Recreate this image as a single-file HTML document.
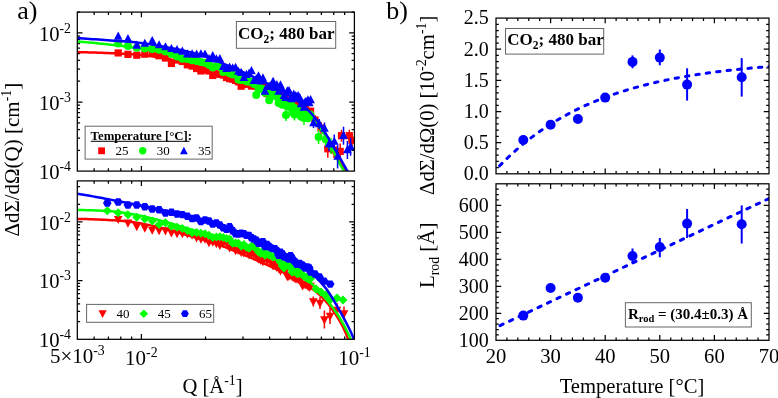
<!DOCTYPE html>
<html><head><meta charset="utf-8"><style>
html,body{margin:0;padding:0;background:#fff;}
svg{display:block;font-family:"Liberation Serif",serif;will-change:transform;}
</style></head><body>
<svg width="778" height="398" viewBox="0 0 778 398">
<path d="M94.16 171.10v-2.8M94.16 12.10v2.8M108.42 171.10v-2.8M108.42 12.10v2.8M120.77 171.10v-2.8M120.77 12.10v2.8M131.67 171.10v-2.8M131.67 12.10v2.8M205.53 171.10v-2.8M205.53 12.10v2.8M243.03 171.10v-2.8M243.03 12.10v2.8M269.64 171.10v-2.8M269.64 12.10v2.8M290.29 171.10v-2.8M290.29 12.10v2.8M307.15 171.10v-2.8M307.15 12.10v2.8M321.41 171.10v-2.8M321.41 12.10v2.8M333.76 171.10v-2.8M333.76 12.10v2.8M344.65 171.10v-2.8M344.65 12.10v2.8" stroke="#000" stroke-width="1.25"/>
<path d="M141.41 171.10v-5.2M141.41 12.10v5.2" stroke="#000" stroke-width="1.25"/>
<path d="M94.16 339.30v-2.8M94.16 180.90v2.8M108.42 339.30v-2.8M108.42 180.90v2.8M120.77 339.30v-2.8M120.77 180.90v2.8M131.67 339.30v-2.8M131.67 180.90v2.8M205.53 339.30v-2.8M205.53 180.90v2.8M243.03 339.30v-2.8M243.03 180.90v2.8M269.64 339.30v-2.8M269.64 180.90v2.8M290.29 339.30v-2.8M290.29 180.90v2.8M307.15 339.30v-2.8M307.15 180.90v2.8M321.41 339.30v-2.8M321.41 180.90v2.8M333.76 339.30v-2.8M333.76 180.90v2.8M344.65 339.30v-2.8M344.65 180.90v2.8" stroke="#000" stroke-width="1.25"/>
<path d="M141.41 339.30v-5.2M141.41 180.90v5.2" stroke="#000" stroke-width="1.25"/>
<path d="M77.30 150.30h2.8M354.40 150.30h-2.8M77.30 138.13h2.8M354.40 138.13h-2.8M77.30 129.50h2.8M354.40 129.50h-2.8M77.30 122.80h2.8M354.40 122.80h-2.8M77.30 117.33h2.8M354.40 117.33h-2.8M77.30 112.70h2.8M354.40 112.70h-2.8M77.30 108.70h2.8M354.40 108.70h-2.8M77.30 105.16h2.8M354.40 105.16h-2.8M77.30 81.20h2.8M354.40 81.20h-2.8M77.30 69.03h2.8M354.40 69.03h-2.8M77.30 60.40h2.8M354.40 60.40h-2.8M77.30 53.70h2.8M354.40 53.70h-2.8M77.30 48.23h2.8M354.40 48.23h-2.8M77.30 43.60h2.8M354.40 43.60h-2.8M77.30 39.60h2.8M354.40 39.60h-2.8M77.30 36.06h2.8M354.40 36.06h-2.8M77.30 12.10h2.8M354.40 12.10h-2.8" stroke="#000" stroke-width="1.25"/>
<path d="M77.30 102.00h5.2M354.40 102.00h-5.2M77.30 32.90h5.2M354.40 32.90h-5.2" stroke="#000" stroke-width="1.25"/>
<path d="M77.30 321.63h2.8M354.40 321.63h-2.8M77.30 311.30h2.8M354.40 311.30h-2.8M77.30 303.97h2.8M354.40 303.97h-2.8M77.30 298.28h2.8M354.40 298.28h-2.8M77.30 293.63h2.8M354.40 293.63h-2.8M77.30 289.70h2.8M354.40 289.70h-2.8M77.30 286.30h2.8M354.40 286.30h-2.8M77.30 283.30h2.8M354.40 283.30h-2.8M77.30 262.94h2.8M354.40 262.94h-2.8M77.30 252.61h2.8M354.40 252.61h-2.8M77.30 245.28h2.8M354.40 245.28h-2.8M77.30 239.59h2.8M354.40 239.59h-2.8M77.30 234.94h2.8M354.40 234.94h-2.8M77.30 231.01h2.8M354.40 231.01h-2.8M77.30 227.61h2.8M354.40 227.61h-2.8M77.30 224.61h2.8M354.40 224.61h-2.8M77.30 204.25h2.8M354.40 204.25h-2.8M77.30 193.92h2.8M354.40 193.92h-2.8M77.30 186.59h2.8M354.40 186.59h-2.8" stroke="#000" stroke-width="1.25"/>
<path d="M77.30 280.61h5.2M354.40 280.61h-5.2M77.30 221.92h5.2M354.40 221.92h-5.2" stroke="#000" stroke-width="1.25"/>
<path d="M506.92 173.80v-2.8M506.92 18.10v2.8M517.84 173.80v-2.8M517.84 18.10v2.8M528.76 173.80v-2.8M528.76 18.10v2.8M539.68 173.80v-2.8M539.68 18.10v2.8M561.52 173.80v-2.8M561.52 18.10v2.8M572.44 173.80v-2.8M572.44 18.10v2.8M583.36 173.80v-2.8M583.36 18.10v2.8M594.28 173.80v-2.8M594.28 18.10v2.8M616.12 173.80v-2.8M616.12 18.10v2.8M627.04 173.80v-2.8M627.04 18.10v2.8M637.96 173.80v-2.8M637.96 18.10v2.8M648.88 173.80v-2.8M648.88 18.10v2.8M670.72 173.80v-2.8M670.72 18.10v2.8M681.64 173.80v-2.8M681.64 18.10v2.8M692.56 173.80v-2.8M692.56 18.10v2.8M703.48 173.80v-2.8M703.48 18.10v2.8M725.32 173.80v-2.8M725.32 18.10v2.8M736.24 173.80v-2.8M736.24 18.10v2.8M747.16 173.80v-2.8M747.16 18.10v2.8M758.08 173.80v-2.8M758.08 18.10v2.8" stroke="#000" stroke-width="1.25"/>
<path d="M550.60 173.80v-5.2M550.60 18.10v5.2M605.20 173.80v-5.2M605.20 18.10v5.2M659.80 173.80v-5.2M659.80 18.10v5.2M714.40 173.80v-5.2M714.40 18.10v5.2" stroke="#000" stroke-width="1.25"/>
<path d="M506.92 340.30v-2.8M506.92 183.80v2.8M517.84 340.30v-2.8M517.84 183.80v2.8M528.76 340.30v-2.8M528.76 183.80v2.8M539.68 340.30v-2.8M539.68 183.80v2.8M561.52 340.30v-2.8M561.52 183.80v2.8M572.44 340.30v-2.8M572.44 183.80v2.8M583.36 340.30v-2.8M583.36 183.80v2.8M594.28 340.30v-2.8M594.28 183.80v2.8M616.12 340.30v-2.8M616.12 183.80v2.8M627.04 340.30v-2.8M627.04 183.80v2.8M637.96 340.30v-2.8M637.96 183.80v2.8M648.88 340.30v-2.8M648.88 183.80v2.8M670.72 340.30v-2.8M670.72 183.80v2.8M681.64 340.30v-2.8M681.64 183.80v2.8M692.56 340.30v-2.8M692.56 183.80v2.8M703.48 340.30v-2.8M703.48 183.80v2.8M725.32 340.30v-2.8M725.32 183.80v2.8M736.24 340.30v-2.8M736.24 183.80v2.8M747.16 340.30v-2.8M747.16 183.80v2.8M758.08 340.30v-2.8M758.08 183.80v2.8" stroke="#000" stroke-width="1.25"/>
<path d="M550.60 340.30v-5.2M550.60 183.80v5.2M605.20 340.30v-5.2M605.20 183.80v5.2M659.80 340.30v-5.2M659.80 183.80v5.2M714.40 340.30v-5.2M714.40 183.80v5.2" stroke="#000" stroke-width="1.25"/>
<path d="M496.00 167.57h2.8M769.00 167.57h-2.8M496.00 161.34h2.8M769.00 161.34h-2.8M496.00 155.12h2.8M769.00 155.12h-2.8M496.00 148.89h2.8M769.00 148.89h-2.8M496.00 136.43h2.8M769.00 136.43h-2.8M496.00 130.20h2.8M769.00 130.20h-2.8M496.00 123.98h2.8M769.00 123.98h-2.8M496.00 117.75h2.8M769.00 117.75h-2.8M496.00 105.29h2.8M769.00 105.29h-2.8M496.00 99.06h2.8M769.00 99.06h-2.8M496.00 92.84h2.8M769.00 92.84h-2.8M496.00 86.61h2.8M769.00 86.61h-2.8M496.00 74.15h2.8M769.00 74.15h-2.8M496.00 67.92h2.8M769.00 67.92h-2.8M496.00 61.70h2.8M769.00 61.70h-2.8M496.00 55.47h2.8M769.00 55.47h-2.8M496.00 43.01h2.8M769.00 43.01h-2.8M496.00 36.78h2.8M769.00 36.78h-2.8M496.00 30.56h2.8M769.00 30.56h-2.8M496.00 24.33h2.8M769.00 24.33h-2.8" stroke="#000" stroke-width="1.25"/>
<path d="M496.00 142.66h5.2M769.00 142.66h-5.2M496.00 111.52h5.2M769.00 111.52h-5.2M496.00 80.38h5.2M769.00 80.38h-5.2M496.00 49.24h5.2M769.00 49.24h-5.2" stroke="#000" stroke-width="1.25"/>
<path d="M496.00 334.90h2.8M769.00 334.90h-2.8M496.00 329.51h2.8M769.00 329.51h-2.8M496.00 324.11h2.8M769.00 324.11h-2.8M496.00 318.71h2.8M769.00 318.71h-2.8M496.00 307.92h2.8M769.00 307.92h-2.8M496.00 302.52h2.8M769.00 302.52h-2.8M496.00 297.13h2.8M769.00 297.13h-2.8M496.00 291.73h2.8M769.00 291.73h-2.8M496.00 280.94h2.8M769.00 280.94h-2.8M496.00 275.54h2.8M769.00 275.54h-2.8M496.00 270.14h2.8M769.00 270.14h-2.8M496.00 264.75h2.8M769.00 264.75h-2.8M496.00 253.96h2.8M769.00 253.96h-2.8M496.00 248.56h2.8M769.00 248.56h-2.8M496.00 243.16h2.8M769.00 243.16h-2.8M496.00 237.77h2.8M769.00 237.77h-2.8M496.00 226.97h2.8M769.00 226.97h-2.8M496.00 221.58h2.8M769.00 221.58h-2.8M496.00 216.18h2.8M769.00 216.18h-2.8M496.00 210.78h2.8M769.00 210.78h-2.8M496.00 199.99h2.8M769.00 199.99h-2.8M496.00 194.59h2.8M769.00 194.59h-2.8M496.00 189.20h2.8M769.00 189.20h-2.8" stroke="#000" stroke-width="1.25"/>
<path d="M496.00 313.32h5.2M769.00 313.32h-5.2M496.00 286.33h5.2M769.00 286.33h-5.2M496.00 259.35h5.2M769.00 259.35h-5.2M496.00 232.37h5.2M769.00 232.37h-5.2M496.00 205.39h5.2M769.00 205.39h-5.2" stroke="#000" stroke-width="1.25"/>
<defs><clipPath id="cTL"><rect x="77.3" y="12.1" width="277.09999999999997" height="159.0"/></clipPath><clipPath id="cBL"><rect x="77.3" y="180.9" width="277.09999999999997" height="158.4"/></clipPath><clipPath id="cTR"><rect x="496.0" y="18.1" width="273.0" height="155.70000000000002"/></clipPath><clipPath id="cBR"><rect x="496.0" y="183.8" width="273.0" height="156.5"/></clipPath></defs>
<g clip-path="url(#cTL)">
<g stroke="#ff0000" fill="none"><path d="M315.00 115.00V125.00" stroke-width="1.5"/><path d="M321.00 122.00V134.00" stroke-width="1.5"/><path d="M327.80 139.80V157.80" stroke-width="1.5"/><path d="M334.00 142.00V158.00" stroke-width="1.5"/><path d="M340.20 143.40V159.40" stroke-width="1.5"/><path d="M341.50 129.70V141.70" stroke-width="1.5"/><path d="M349.30 129.70V141.70" stroke-width="1.5"/><path d="M352.00 133.30V147.30" stroke-width="1.5"/></g>
<g fill="#ff0000" stroke="none"><rect x="114.60" y="49.33" width="7.2" height="7.2"/><rect x="124.35" y="50.74" width="7.2" height="7.2"/><rect x="133.17" y="51.59" width="7.2" height="7.2"/><rect x="141.22" y="50.57" width="7.2" height="7.2"/><rect x="148.63" y="49.97" width="7.2" height="7.2"/><rect x="155.49" y="52.15" width="7.2" height="7.2"/><rect x="161.87" y="54.43" width="7.2" height="7.2"/><rect x="167.84" y="59.85" width="7.2" height="7.2"/><rect x="173.45" y="56.45" width="7.2" height="7.2"/><rect x="178.74" y="57.88" width="7.2" height="7.2"/><rect x="183.74" y="61.23" width="7.2" height="7.2"/><rect x="188.49" y="62.45" width="7.2" height="7.2"/><rect x="193.00" y="64.95" width="7.2" height="7.2"/><rect x="197.31" y="67.35" width="7.2" height="7.2"/><rect x="201.42" y="66.18" width="7.2" height="7.2"/><rect x="205.36" y="67.40" width="7.2" height="7.2"/><rect x="209.13" y="71.86" width="7.2" height="7.2"/><rect x="212.76" y="70.01" width="7.2" height="7.2"/><rect x="216.25" y="70.65" width="7.2" height="7.2"/><rect x="219.62" y="71.40" width="7.2" height="7.2"/><rect x="222.87" y="73.94" width="7.2" height="7.2"/><rect x="226.00" y="75.09" width="7.2" height="7.2"/><rect x="229.04" y="75.54" width="7.2" height="7.2"/><rect x="231.97" y="76.87" width="7.2" height="7.2"/><rect x="234.82" y="78.21" width="7.2" height="7.2"/><rect x="237.58" y="82.61" width="7.2" height="7.2"/><rect x="240.26" y="80.94" width="7.2" height="7.2"/><rect x="242.87" y="80.58" width="7.2" height="7.2"/><rect x="245.40" y="78.68" width="7.2" height="7.2"/><rect x="247.87" y="82.47" width="7.2" height="7.2"/><rect x="250.27" y="80.25" width="7.2" height="7.2"/><rect x="252.62" y="82.40" width="7.2" height="7.2"/><rect x="254.90" y="81.18" width="7.2" height="7.2"/><rect x="257.13" y="83.66" width="7.2" height="7.2"/><rect x="259.31" y="83.15" width="7.2" height="7.2"/><rect x="261.43" y="85.08" width="7.2" height="7.2"/><rect x="263.51" y="89.96" width="7.2" height="7.2"/><rect x="265.55" y="86.03" width="7.2" height="7.2"/><rect x="267.54" y="88.03" width="7.2" height="7.2"/><rect x="269.48" y="85.90" width="7.2" height="7.2"/><rect x="271.39" y="88.40" width="7.2" height="7.2"/><rect x="273.26" y="90.88" width="7.2" height="7.2"/><rect x="275.09" y="90.98" width="7.2" height="7.2"/><rect x="276.89" y="92.86" width="7.2" height="7.2"/><rect x="278.65" y="93.67" width="7.2" height="7.2"/><rect x="280.38" y="93.22" width="7.2" height="7.2"/><rect x="282.08" y="96.65" width="7.2" height="7.2"/><rect x="283.74" y="95.67" width="7.2" height="7.2"/><rect x="285.38" y="100.63" width="7.2" height="7.2"/><rect x="286.99" y="97.96" width="7.2" height="7.2"/><rect x="288.57" y="100.58" width="7.2" height="7.2"/><rect x="290.13" y="100.35" width="7.2" height="7.2"/><rect x="291.66" y="102.58" width="7.2" height="7.2"/><rect x="293.16" y="100.96" width="7.2" height="7.2"/><rect x="294.64" y="104.15" width="7.2" height="7.2"/><rect x="296.10" y="103.13" width="7.2" height="7.2"/><rect x="297.53" y="105.97" width="7.2" height="7.2"/><rect x="298.94" y="105.65" width="7.2" height="7.2"/><rect x="300.33" y="105.54" width="7.2" height="7.2"/><rect x="301.70" y="104.71" width="7.2" height="7.2"/><rect x="303.05" y="107.76" width="7.2" height="7.2"/><rect x="304.39" y="107.87" width="7.2" height="7.2"/><rect x="305.70" y="110.31" width="7.2" height="7.2"/><rect x="306.99" y="107.63" width="7.2" height="7.2"/><rect x="311.40" y="116.40" width="7.2" height="7.2"/><rect x="317.40" y="124.40" width="7.2" height="7.2"/><rect x="324.20" y="145.20" width="7.2" height="7.2"/><rect x="330.40" y="146.40" width="7.2" height="7.2"/><rect x="336.60" y="147.80" width="7.2" height="7.2"/><rect x="337.90" y="132.10" width="7.2" height="7.2"/><rect x="345.70" y="132.10" width="7.2" height="7.2"/><rect x="348.40" y="136.70" width="7.2" height="7.2"/></g>
<path d="M77.30 52.10 L80.34 52.16 L83.38 52.23 L86.42 52.31 L89.47 52.40 L92.51 52.49 L95.55 52.59 L98.59 52.70 L101.63 52.81 L104.67 52.93 L107.72 53.06 L110.76 53.18 L113.80 53.32 L116.84 53.45 L119.88 53.59 L122.92 53.73 L125.97 53.89 L129.01 54.06 L132.05 54.24 L135.09 54.46 L138.13 54.69 L141.17 54.97 L144.21 55.30 L147.26 55.66 L150.30 56.06 L153.34 56.48 L156.38 56.94 L159.42 57.41 L162.46 57.91 L165.51 58.47 L168.55 59.08 L171.59 59.73 L174.63 60.41 L177.67 61.13 L180.71 61.87 L183.76 62.63 L186.80 63.40 L189.84 64.18 L192.88 64.96 L195.92 65.73 L198.96 66.49 L202.00 67.25 L205.05 68.02 L208.09 68.80 L211.13 69.59 L214.17 70.39 L217.21 71.22 L220.25 72.07 L223.30 72.95 L226.34 73.86 L229.38 74.80 L232.42 75.79 L235.46 76.80 L238.50 77.86 L241.54 78.96 L244.59 80.10 L247.63 81.27 L250.67 82.49 L253.71 83.75 L256.75 85.06 L259.79 86.41 L262.84 87.81 L265.88 89.29 L268.92 90.84 L271.96 92.45 L275.00 94.12 L278.04 95.84 L281.09 97.60 L284.13 99.41 L287.17 101.25 L290.21 103.13 L293.25 105.01 L296.29 106.91 L299.33 108.87 L302.38 110.95 L305.42 113.20 L308.46 115.66 L311.50 118.40 L314.54 121.59 L317.58 125.16 L320.63 129.04 L323.67 133.15 L326.71 137.50 L329.75 142.41 L332.79 147.74 L335.83 153.30 L338.88 158.91 L341.92 164.36 L344.96 169.46 L348.00 174.00" fill="none" stroke="#ff0000" stroke-width="2.5"/>
<g stroke="#00ff00" fill="none"><path d="M286.00 109.00V121.00" stroke-width="1.5"/><path d="M294.50 108.50V120.50" stroke-width="1.5"/><path d="M304.00 111.00V125.00" stroke-width="1.5"/><path d="M318.60 130.00V144.00" stroke-width="1.5"/><path d="M325.80 132.60V146.60" stroke-width="1.5"/><path d="M331.00 138.00V154.00" stroke-width="1.5"/></g>
<g fill="#00ff00" stroke="none"><circle cx="118.20" cy="43.55" r="4.0"/><circle cx="127.95" cy="46.07" r="4.0"/><circle cx="136.77" cy="47.85" r="4.0"/><circle cx="144.82" cy="48.43" r="4.0"/><circle cx="152.23" cy="49.02" r="4.0"/><circle cx="159.09" cy="49.80" r="4.0"/><circle cx="165.47" cy="51.50" r="4.0"/><circle cx="171.44" cy="54.03" r="4.0"/><circle cx="177.05" cy="56.47" r="4.0"/><circle cx="182.34" cy="58.67" r="4.0"/><circle cx="187.34" cy="59.05" r="4.0"/><circle cx="192.09" cy="60.20" r="4.0"/><circle cx="196.60" cy="60.99" r="4.0"/><circle cx="200.91" cy="62.12" r="4.0"/><circle cx="205.02" cy="62.74" r="4.0"/><circle cx="208.96" cy="64.83" r="4.0"/><circle cx="212.73" cy="67.53" r="4.0"/><circle cx="216.36" cy="66.05" r="4.0"/><circle cx="219.85" cy="66.89" r="4.0"/><circle cx="223.22" cy="71.92" r="4.0"/><circle cx="226.47" cy="70.86" r="4.0"/><circle cx="229.60" cy="73.21" r="4.0"/><circle cx="232.64" cy="74.41" r="4.0"/><circle cx="235.57" cy="72.88" r="4.0"/><circle cx="238.42" cy="79.49" r="4.0"/><circle cx="241.18" cy="79.95" r="4.0"/><circle cx="243.86" cy="78.99" r="4.0"/><circle cx="246.47" cy="81.24" r="4.0"/><circle cx="249.00" cy="81.66" r="4.0"/><circle cx="251.47" cy="81.44" r="4.0"/><circle cx="253.87" cy="83.93" r="4.0"/><circle cx="256.22" cy="94.97" r="4.0"/><circle cx="258.50" cy="88.42" r="4.0"/><circle cx="260.73" cy="89.07" r="4.0"/><circle cx="262.91" cy="89.31" r="4.0"/><circle cx="265.03" cy="92.63" r="4.0"/><circle cx="267.11" cy="90.51" r="4.0"/><circle cx="269.15" cy="100.25" r="4.0"/><circle cx="271.14" cy="96.02" r="4.0"/><circle cx="273.08" cy="95.05" r="4.0"/><circle cx="274.99" cy="93.93" r="4.0"/><circle cx="276.86" cy="96.71" r="4.0"/><circle cx="278.69" cy="102.93" r="4.0"/><circle cx="280.49" cy="101.72" r="4.0"/><circle cx="282.25" cy="104.69" r="4.0"/><circle cx="283.98" cy="101.62" r="4.0"/><circle cx="285.68" cy="104.44" r="4.0"/><circle cx="287.34" cy="106.59" r="4.0"/><circle cx="288.98" cy="106.18" r="4.0"/><circle cx="290.59" cy="103.26" r="4.0"/><circle cx="292.17" cy="109.51" r="4.0"/><circle cx="293.73" cy="112.89" r="4.0"/><circle cx="295.26" cy="111.40" r="4.0"/><circle cx="296.76" cy="108.79" r="4.0"/><circle cx="298.24" cy="110.35" r="4.0"/><circle cx="299.70" cy="112.12" r="4.0"/><circle cx="301.13" cy="116.73" r="4.0"/><circle cx="302.54" cy="114.04" r="4.0"/><circle cx="303.93" cy="113.72" r="4.0"/><circle cx="305.30" cy="116.82" r="4.0"/><circle cx="306.65" cy="114.41" r="4.0"/><circle cx="307.99" cy="118.36" r="4.0"/><circle cx="309.30" cy="114.23" r="4.0"/><circle cx="310.59" cy="115.02" r="4.0"/><circle cx="286.00" cy="115.00" r="4.0"/><circle cx="294.50" cy="114.50" r="4.0"/><circle cx="304.00" cy="118.00" r="4.0"/><circle cx="318.60" cy="137.00" r="4.0"/><circle cx="325.80" cy="139.60" r="4.0"/><circle cx="331.00" cy="146.00" r="4.0"/></g>
<path d="M77.30 41.60 L80.32 41.81 L83.34 42.04 L86.36 42.28 L89.38 42.54 L92.40 42.81 L95.41 43.09 L98.43 43.39 L101.45 43.69 L104.47 44.00 L107.49 44.32 L110.51 44.65 L113.53 44.99 L116.55 45.33 L119.57 45.69 L122.59 46.07 L125.61 46.47 L128.62 46.90 L131.64 47.33 L134.66 47.77 L137.68 48.20 L140.70 48.62 L143.72 49.03 L146.74 49.45 L149.76 49.88 L152.78 50.32 L155.80 50.79 L158.82 51.29 L161.83 51.83 L164.85 52.39 L167.87 52.99 L170.89 53.61 L173.91 54.25 L176.93 54.92 L179.95 55.62 L182.97 56.34 L185.99 57.09 L189.01 57.86 L192.03 58.65 L195.04 59.46 L198.06 60.30 L201.08 61.18 L204.10 62.11 L207.12 63.09 L210.14 64.10 L213.16 65.15 L216.18 66.24 L219.20 67.35 L222.22 68.48 L225.24 69.64 L228.26 70.82 L231.27 72.00 L234.29 73.23 L237.31 74.49 L240.33 75.78 L243.35 77.11 L246.37 78.47 L249.39 79.86 L252.41 81.28 L255.43 82.74 L258.45 84.22 L261.47 85.74 L264.48 87.29 L267.50 88.89 L270.52 90.52 L273.54 92.19 L276.56 93.91 L279.58 95.66 L282.60 97.45 L285.62 99.28 L288.64 101.14 L291.66 103.03 L294.68 104.90 L297.69 106.78 L300.71 108.75 L303.73 110.86 L306.75 113.19 L309.77 115.79 L312.79 118.84 L315.81 122.44 L318.83 126.47 L321.85 130.80 L324.87 135.34 L327.89 140.49 L330.90 146.20 L333.92 152.22 L336.94 158.27 L339.96 164.10 L342.98 169.45 L346.00 174.00" fill="none" stroke="#00ff00" stroke-width="2.5"/>
<g stroke="#0000ff" fill="none"><path d="M313.50 118.00V128.00" stroke-width="1.5"/><path d="M319.30 119.00V129.00" stroke-width="1.5"/><path d="M324.50 122.50V134.50" stroke-width="1.5"/><path d="M329.00 137.20V151.20" stroke-width="1.5"/><path d="M334.30 134.60V148.60" stroke-width="1.5"/><path d="M337.60 144.60V168.60" stroke-width="1.5"/><path d="M343.50 126.70V144.70" stroke-width="1.5"/><path d="M347.40 141.00V159.00" stroke-width="1.5"/><path d="M350.60 137.80V155.80" stroke-width="1.5"/></g>
<g fill="#0000ff" stroke="none"><path d="M118.20 31.46L122.50 39.63L113.90 39.63Z"/><path d="M127.95 33.98L132.25 42.15L123.65 42.15Z"/><path d="M136.77 40.56L141.07 48.73L132.47 48.73Z"/><path d="M144.82 38.63L149.12 46.80L140.52 46.80Z"/><path d="M152.23 35.89L156.53 44.06L147.93 44.06Z"/><path d="M159.09 40.14L163.39 48.31L154.79 48.31Z"/><path d="M165.47 42.17L169.77 50.34L161.17 50.34Z"/><path d="M171.44 43.95L175.74 52.12L167.14 52.12Z"/><path d="M177.05 45.12L181.35 53.29L172.75 53.29Z"/><path d="M182.34 46.59L186.64 54.76L178.04 54.76Z"/><path d="M187.34 49.22L191.64 57.39L183.04 57.39Z"/><path d="M192.09 49.24L196.39 57.41L187.79 57.41Z"/><path d="M196.60 49.59L200.90 57.76L192.30 57.76Z"/><path d="M200.91 49.14L205.21 57.31L196.61 57.31Z"/><path d="M205.02 49.41L209.32 57.58L200.72 57.58Z"/><path d="M208.96 53.94L213.26 62.11L204.66 62.11Z"/><path d="M212.73 51.09L217.03 59.26L208.43 59.26Z"/><path d="M216.36 54.21L220.66 62.38L212.06 62.38Z"/><path d="M219.85 54.05L224.15 62.22L215.55 62.22Z"/><path d="M223.22 61.85L227.52 70.02L218.92 70.02Z"/><path d="M226.47 63.86L230.77 72.03L222.17 72.03Z"/><path d="M229.60 62.56L233.90 70.73L225.30 70.73Z"/><path d="M232.64 63.28L236.94 71.45L228.34 71.45Z"/><path d="M235.57 62.83L239.87 71.00L231.27 71.00Z"/><path d="M238.42 66.68L242.72 74.85L234.12 74.85Z"/><path d="M241.18 67.71L245.48 75.88L236.88 75.88Z"/><path d="M243.86 72.92L248.16 81.09L239.56 81.09Z"/><path d="M246.47 69.83L250.77 78.00L242.17 78.00Z"/><path d="M249.00 68.68L253.30 76.85L244.70 76.85Z"/><path d="M251.47 66.04L255.77 74.21L247.17 74.21Z"/><path d="M253.87 75.83L258.17 84.00L249.57 84.00Z"/><path d="M256.22 74.19L260.52 82.36L251.92 82.36Z"/><path d="M258.50 71.13L262.80 79.30L254.20 79.30Z"/><path d="M260.73 76.41L265.03 84.58L256.43 84.58Z"/><path d="M262.91 73.23L267.21 81.40L258.61 81.40Z"/><path d="M265.03 86.54L269.33 94.71L260.73 94.71Z"/><path d="M267.11 81.90L271.41 90.07L262.81 90.07Z"/><path d="M269.15 81.59L273.45 89.76L264.85 89.76Z"/><path d="M271.14 80.72L275.44 88.89L266.84 88.89Z"/><path d="M273.08 76.74L277.38 84.91L268.78 84.91Z"/><path d="M274.99 82.77L279.29 90.94L270.69 90.94Z"/><path d="M276.86 80.05L281.16 88.22L272.56 88.22Z"/><path d="M278.69 86.52L282.99 94.69L274.39 94.69Z"/><path d="M280.49 80.30L284.79 88.47L276.19 88.47Z"/><path d="M282.25 84.39L286.55 92.56L277.95 92.56Z"/><path d="M283.98 90.91L288.28 99.08L279.68 99.08Z"/><path d="M285.68 92.92L289.98 101.09L281.38 101.09Z"/><path d="M287.34 86.13L291.64 94.30L283.04 94.30Z"/><path d="M288.98 85.93L293.28 94.10L284.68 94.10Z"/><path d="M290.59 93.29L294.89 101.46L286.29 101.46Z"/><path d="M292.17 93.98L296.47 102.15L287.87 102.15Z"/><path d="M293.73 89.60L298.03 97.77L289.43 97.77Z"/><path d="M295.26 91.10L299.56 99.27L290.96 99.27Z"/><path d="M296.76 91.76L301.06 99.93L292.46 99.93Z"/><path d="M298.24 90.98L302.54 99.15L293.94 99.15Z"/><path d="M299.70 93.03L304.00 101.20L295.40 101.20Z"/><path d="M301.13 99.16L305.43 107.33L296.83 107.33Z"/><path d="M302.54 98.10L306.84 106.27L298.24 106.27Z"/><path d="M303.93 102.64L308.23 110.81L299.63 110.81Z"/><path d="M305.30 96.89L309.60 105.06L301.00 105.06Z"/><path d="M306.65 97.23L310.95 105.40L302.35 105.40Z"/><path d="M307.99 95.18L312.29 103.35L303.69 103.35Z"/><path d="M309.30 98.17L313.60 106.34L305.00 106.34Z"/><path d="M310.59 95.03L314.89 103.20L306.29 103.20Z"/><path d="M313.50 118.10L317.80 126.27L309.20 126.27Z"/><path d="M319.30 119.10L323.60 127.27L315.00 127.27Z"/><path d="M324.50 123.60L328.80 131.77L320.20 131.77Z"/><path d="M329.00 139.30L333.30 147.47L324.70 147.47Z"/><path d="M334.30 136.70L338.60 144.87L330.00 144.87Z"/><path d="M337.60 151.70L341.90 159.87L333.30 159.87Z"/><path d="M343.50 130.80L347.80 138.97L339.20 138.97Z"/><path d="M347.40 145.10L351.70 153.27L343.10 153.27Z"/><path d="M350.60 141.90L354.90 150.07L346.30 150.07Z"/></g>
<path d="M77.30 38.10 L80.35 38.30 L83.41 38.51 L86.46 38.72 L89.51 38.93 L92.56 39.14 L95.62 39.36 L98.67 39.58 L101.72 39.80 L104.78 40.02 L107.83 40.24 L110.88 40.47 L113.93 40.69 L116.99 40.92 L120.04 41.15 L123.09 41.37 L126.14 41.59 L129.20 41.81 L132.25 42.06 L135.30 42.33 L138.36 42.65 L141.41 43.01 L144.46 43.43 L147.51 43.88 L150.57 44.37 L153.62 44.89 L156.67 45.41 L159.73 45.95 L162.78 46.49 L165.83 47.05 L168.88 47.62 L171.94 48.20 L174.99 48.81 L178.04 49.44 L181.10 50.09 L184.15 50.77 L187.20 51.48 L190.25 52.23 L193.31 53.01 L196.36 53.82 L199.41 54.70 L202.47 55.66 L205.52 56.69 L208.57 57.80 L211.62 58.96 L214.68 60.16 L217.73 61.40 L220.78 62.66 L223.83 63.93 L226.89 65.21 L229.94 66.48 L232.99 67.74 L236.05 69.04 L239.10 70.35 L242.15 71.69 L245.20 73.06 L248.26 74.44 L251.31 75.85 L254.36 77.29 L257.42 78.75 L260.47 80.23 L263.52 81.72 L266.57 83.22 L269.63 84.73 L272.68 86.28 L275.73 87.86 L278.79 89.48 L281.84 91.16 L284.89 92.91 L287.94 94.73 L291.00 96.63 L294.05 98.61 L297.10 100.71 L300.16 102.97 L303.21 105.44 L306.26 108.17 L309.31 111.26 L312.37 114.71 L315.42 118.44 L318.47 122.43 L321.52 126.80 L324.58 131.65 L327.63 136.80 L330.68 142.05 L333.74 147.24 L336.79 152.45 L339.84 157.74 L342.89 163.10 L345.95 168.51 L349.00 174.00" fill="none" stroke="#0000ff" stroke-width="2.5"/>
</g>
<g clip-path="url(#cBL)">
<g stroke="#ff0000" fill="none"><path d="M313.30 296.40V306.40" stroke-width="1.5"/><path d="M320.00 297.00V309.00" stroke-width="1.5"/><path d="M324.40 310.50V328.50" stroke-width="1.5"/><path d="M330.00 308.00V324.00" stroke-width="1.5"/><path d="M337.00 303.00V317.00" stroke-width="1.5"/><path d="M344.00 306.50V320.50" stroke-width="1.5"/></g>
<g fill="#ff0000" stroke="none"><path d="M118.20 224.10L122.50 215.93L113.90 215.93Z"/><path d="M127.95 227.79L132.25 219.62L123.65 219.62Z"/><path d="M136.77 231.16L141.07 222.99L132.47 222.99Z"/><path d="M144.82 232.64L149.12 224.47L140.52 224.47Z"/><path d="M152.23 234.83L156.53 226.66L147.93 226.66Z"/><path d="M159.09 235.18L163.39 227.01L154.79 227.01Z"/><path d="M165.47 235.45L169.77 227.28L161.17 227.28Z"/><path d="M171.44 237.59L175.74 229.42L167.14 229.42Z"/><path d="M177.05 238.22L181.35 230.05L172.75 230.05Z"/><path d="M182.34 238.36L186.64 230.19L178.04 230.19Z"/><path d="M187.34 238.59L191.64 230.42L183.04 230.42Z"/><path d="M192.09 239.74L196.39 231.57L187.79 231.57Z"/><path d="M196.60 242.54L200.90 234.37L192.30 234.37Z"/><path d="M200.91 243.67L205.21 235.50L196.61 235.50Z"/><path d="M205.02 243.78L209.32 235.61L200.72 235.61Z"/><path d="M208.96 247.35L213.26 239.18L204.66 239.18Z"/><path d="M212.73 246.63L217.03 238.46L208.43 238.46Z"/><path d="M216.36 248.19L220.66 240.02L212.06 240.02Z"/><path d="M219.85 250.12L224.15 241.95L215.55 241.95Z"/><path d="M223.22 248.17L227.52 240.00L218.92 240.00Z"/><path d="M226.47 247.45L230.77 239.28L222.17 239.28Z"/><path d="M229.60 252.49L233.90 244.32L225.30 244.32Z"/><path d="M232.64 251.31L236.94 243.14L228.34 243.14Z"/><path d="M235.57 255.36L239.87 247.19L231.27 247.19Z"/><path d="M238.42 254.87L242.72 246.70L234.12 246.70Z"/><path d="M241.18 256.91L245.48 248.74L236.88 248.74Z"/><path d="M243.86 257.54L248.16 249.37L239.56 249.37Z"/><path d="M246.47 253.99L250.77 245.82L242.17 245.82Z"/><path d="M249.00 259.50L253.30 251.33L244.70 251.33Z"/><path d="M251.47 258.25L255.77 250.08L247.17 250.08Z"/><path d="M253.87 259.12L258.17 250.95L249.57 250.95Z"/><path d="M256.22 260.66L260.52 252.49L251.92 252.49Z"/><path d="M258.50 263.70L262.80 255.53L254.20 255.53Z"/><path d="M260.73 264.92L265.03 256.75L256.43 256.75Z"/><path d="M262.91 266.17L267.21 258.00L258.61 258.00Z"/><path d="M265.03 262.60L269.33 254.43L260.73 254.43Z"/><path d="M267.11 265.44L271.41 257.27L262.81 257.27Z"/><path d="M269.15 263.33L273.45 255.16L264.85 255.16Z"/><path d="M271.14 268.30L275.44 260.13L266.84 260.13Z"/><path d="M273.08 270.58L277.38 262.41L268.78 262.41Z"/><path d="M274.99 269.21L279.29 261.04L270.69 261.04Z"/><path d="M276.86 272.07L281.16 263.90L272.56 263.90Z"/><path d="M278.69 273.13L282.99 264.96L274.39 264.96Z"/><path d="M280.49 275.62L284.79 267.45L276.19 267.45Z"/><path d="M282.25 273.37L286.55 265.20L277.95 265.20Z"/><path d="M283.98 274.41L288.28 266.24L279.68 266.24Z"/><path d="M285.68 275.59L289.98 267.42L281.38 267.42Z"/><path d="M287.34 281.31L291.64 273.14L283.04 273.14Z"/><path d="M288.98 281.12L293.28 272.95L284.68 272.95Z"/><path d="M290.59 279.87L294.89 271.70L286.29 271.70Z"/><path d="M292.17 281.53L296.47 273.36L287.87 273.36Z"/><path d="M293.73 282.29L298.03 274.12L289.43 274.12Z"/><path d="M295.26 283.41L299.56 275.24L290.96 275.24Z"/><path d="M296.76 283.55L301.06 275.38L292.46 275.38Z"/><path d="M298.24 284.21L302.54 276.04L293.94 276.04Z"/><path d="M299.70 283.29L304.00 275.12L295.40 275.12Z"/><path d="M301.13 285.32L305.43 277.15L296.83 277.15Z"/><path d="M302.54 290.62L306.84 282.45L298.24 282.45Z"/><path d="M303.93 289.27L308.23 281.10L299.63 281.10Z"/><path d="M305.30 289.14L309.60 280.97L301.00 280.97Z"/><path d="M306.65 289.38L310.95 281.21L302.35 281.21Z"/><path d="M307.99 290.70L312.29 282.53L303.69 282.53Z"/><path d="M309.30 292.04L313.60 283.87L305.00 283.87Z"/><path d="M310.59 290.80L314.89 282.63L306.29 282.63Z"/><path d="M313.30 306.30L317.60 298.13L309.00 298.13Z"/><path d="M320.00 307.90L324.30 299.73L315.70 299.73Z"/><path d="M324.40 324.40L328.70 316.23L320.10 316.23Z"/><path d="M330.00 320.90L334.30 312.73L325.70 312.73Z"/><path d="M337.00 314.90L341.30 306.73L332.70 306.73Z"/><path d="M344.00 318.40L348.30 310.23L339.70 310.23Z"/></g>
<path d="M77.30 219.00 L80.35 219.01 L83.41 219.05 L86.46 219.11 L89.51 219.19 L92.56 219.29 L95.62 219.40 L98.67 219.53 L101.72 219.68 L104.78 219.83 L107.83 220.00 L110.88 220.17 L113.93 220.35 L116.99 220.54 L120.04 220.74 L123.09 220.99 L126.14 221.30 L129.20 221.65 L132.25 222.05 L135.30 222.50 L138.36 223.00 L141.41 223.53 L144.46 224.11 L147.51 224.72 L150.57 225.37 L153.62 226.05 L156.67 226.76 L159.73 227.50 L162.78 228.26 L165.83 229.05 L168.88 229.87 L171.94 230.70 L174.99 231.55 L178.04 232.42 L181.10 233.30 L184.15 234.19 L187.20 235.09 L190.25 236.00 L193.31 236.91 L196.36 237.82 L199.41 238.74 L202.47 239.65 L205.52 240.56 L208.57 241.47 L211.62 242.43 L214.68 243.42 L217.73 244.47 L220.78 245.55 L223.83 246.67 L226.89 247.83 L229.94 249.01 L232.99 250.23 L236.05 251.47 L239.10 252.74 L242.15 254.02 L245.20 255.33 L248.26 256.64 L251.31 257.97 L254.36 259.31 L257.42 260.66 L260.47 262.00 L263.52 263.35 L266.57 264.69 L269.63 266.04 L272.68 267.38 L275.73 268.75 L278.79 270.13 L281.84 271.55 L284.89 273.00 L287.94 274.50 L291.00 276.05 L294.05 277.66 L297.10 279.34 L300.16 281.09 L303.21 282.91 L306.26 284.80 L309.31 286.80 L312.37 288.95 L315.42 291.28 L318.47 293.83 L321.52 296.65 L324.58 299.81 L327.63 303.33 L330.68 307.21 L333.74 311.45 L336.79 316.06 L339.84 321.03 L342.89 326.63 L345.95 333.39 L349.00 342.00" fill="none" stroke="#ff0000" stroke-width="2.5"/>
<g stroke="#00ff00" fill="none"><path d="M316.00 285.00V293.00" stroke-width="1.5"/><path d="M321.00 288.00V296.00" stroke-width="1.5"/><path d="M326.00 291.00V299.00" stroke-width="1.5"/><path d="M331.00 295.00V303.00" stroke-width="1.5"/><path d="M337.00 294.00V302.00" stroke-width="1.5"/><path d="M343.00 296.00V304.00" stroke-width="1.5"/></g>
<g fill="#00ff00" stroke="none"><path d="M107.29 206.30L111.79 210.80L107.29 215.30L102.79 210.80Z"/><path d="M118.20 208.34L122.70 212.84L118.20 217.34L113.70 212.84Z"/><path d="M127.95 210.16L132.45 214.66L127.95 219.16L123.45 214.66Z"/><path d="M136.77 212.64L141.27 217.14L136.77 221.64L132.27 217.14Z"/><path d="M144.82 214.57L149.32 219.07L144.82 223.57L140.32 219.07Z"/><path d="M152.23 216.38L156.73 220.88L152.23 225.38L147.73 220.88Z"/><path d="M159.09 219.95L163.59 224.45L159.09 228.95L154.59 224.45Z"/><path d="M165.47 218.29L169.97 222.79L165.47 227.29L160.97 222.79Z"/><path d="M171.44 221.83L175.94 226.33L171.44 230.83L166.94 226.33Z"/><path d="M177.05 222.81L181.55 227.31L177.05 231.81L172.55 227.31Z"/><path d="M182.34 224.02L186.84 228.52L182.34 233.02L177.84 228.52Z"/><path d="M187.34 225.94L191.84 230.44L187.34 234.94L182.84 230.44Z"/><path d="M192.09 228.17L196.59 232.67L192.09 237.17L187.59 232.67Z"/><path d="M196.60 228.06L201.10 232.56L196.60 237.06L192.10 232.56Z"/><path d="M200.91 228.84L205.41 233.34L200.91 237.84L196.41 233.34Z"/><path d="M205.02 229.29L209.52 233.79L205.02 238.29L200.52 233.79Z"/><path d="M208.96 230.84L213.46 235.34L208.96 239.84L204.46 235.34Z"/><path d="M212.73 233.03L217.23 237.53L212.73 242.03L208.23 237.53Z"/><path d="M216.36 232.38L220.86 236.88L216.36 241.38L211.86 236.88Z"/><path d="M219.85 232.35L224.35 236.85L219.85 241.35L215.35 236.85Z"/><path d="M223.22 233.06L227.72 237.56L223.22 242.06L218.72 237.56Z"/><path d="M226.47 234.11L230.97 238.61L226.47 243.11L221.97 238.61Z"/><path d="M229.60 234.61L234.10 239.11L229.60 243.61L225.10 239.11Z"/><path d="M232.64 238.64L237.14 243.14L232.64 247.64L228.14 243.14Z"/><path d="M235.57 238.57L240.07 243.07L235.57 247.57L231.07 243.07Z"/><path d="M238.42 238.68L242.92 243.18L238.42 247.68L233.92 243.18Z"/><path d="M241.18 241.80L245.68 246.30L241.18 250.80L236.68 246.30Z"/><path d="M243.86 239.92L248.36 244.42L243.86 248.92L239.36 244.42Z"/><path d="M246.47 242.71L250.97 247.21L246.47 251.71L241.97 247.21Z"/><path d="M249.00 243.70L253.50 248.20L249.00 252.70L244.50 248.20Z"/><path d="M251.47 241.45L255.97 245.95L251.47 250.45L246.97 245.95Z"/><path d="M253.87 242.35L258.37 246.85L253.87 251.35L249.37 246.85Z"/><path d="M256.22 244.13L260.72 248.63L256.22 253.13L251.72 248.63Z"/><path d="M258.50 247.60L263.00 252.10L258.50 256.60L254.00 252.10Z"/><path d="M260.73 249.10L265.23 253.60L260.73 258.10L256.23 253.60Z"/><path d="M262.91 246.51L267.41 251.01L262.91 255.51L258.41 251.01Z"/><path d="M265.03 250.67L269.53 255.17L265.03 259.67L260.53 255.17Z"/><path d="M267.11 249.59L271.61 254.09L267.11 258.59L262.61 254.09Z"/><path d="M269.15 250.53L273.65 255.03L269.15 259.53L264.65 255.03Z"/><path d="M271.14 251.26L275.64 255.76L271.14 260.26L266.64 255.76Z"/><path d="M273.08 252.59L277.58 257.09L273.08 261.59L268.58 257.09Z"/><path d="M274.99 251.44L279.49 255.94L274.99 260.44L270.49 255.94Z"/><path d="M276.86 253.67L281.36 258.17L276.86 262.67L272.36 258.17Z"/><path d="M278.69 254.39L283.19 258.89L278.69 263.39L274.19 258.89Z"/><path d="M280.49 258.01L284.99 262.51L280.49 267.01L275.99 262.51Z"/><path d="M282.25 261.46L286.75 265.96L282.25 270.46L277.75 265.96Z"/><path d="M283.98 263.52L288.48 268.02L283.98 272.52L279.48 268.02Z"/><path d="M285.68 260.01L290.18 264.51L285.68 269.01L281.18 264.51Z"/><path d="M287.34 258.98L291.84 263.48L287.34 267.98L282.84 263.48Z"/><path d="M288.98 262.01L293.48 266.51L288.98 271.01L284.48 266.51Z"/><path d="M290.59 262.23L295.09 266.73L290.59 271.23L286.09 266.73Z"/><path d="M292.17 267.69L296.67 272.19L292.17 276.69L287.67 272.19Z"/><path d="M293.73 266.52L298.23 271.02L293.73 275.52L289.23 271.02Z"/><path d="M295.26 265.49L299.76 269.99L295.26 274.49L290.76 269.99Z"/><path d="M296.76 268.99L301.26 273.49L296.76 277.99L292.26 273.49Z"/><path d="M298.24 269.28L302.74 273.78L298.24 278.28L293.74 273.78Z"/><path d="M299.70 266.79L304.20 271.29L299.70 275.79L295.20 271.29Z"/><path d="M301.13 269.34L305.63 273.84L301.13 278.34L296.63 273.84Z"/><path d="M302.54 270.62L307.04 275.12L302.54 279.62L298.04 275.12Z"/><path d="M303.93 271.84L308.43 276.34L303.93 280.84L299.43 276.34Z"/><path d="M305.30 272.82L309.80 277.32L305.30 281.82L300.80 277.32Z"/><path d="M306.65 272.86L311.15 277.36L306.65 281.86L302.15 277.36Z"/><path d="M307.99 274.48L312.49 278.98L307.99 283.48L303.49 278.98Z"/><path d="M309.30 274.00L313.80 278.50L309.30 283.00L304.80 278.50Z"/><path d="M310.59 274.25L315.09 278.75L310.59 283.25L306.09 278.75Z"/><path d="M316.00 284.50L320.50 289.00L316.00 293.50L311.50 289.00Z"/><path d="M321.00 287.50L325.50 292.00L321.00 296.50L316.50 292.00Z"/><path d="M326.00 290.50L330.50 295.00L326.00 299.50L321.50 295.00Z"/><path d="M331.00 294.50L335.50 299.00L331.00 303.50L326.50 299.00Z"/><path d="M337.00 293.50L341.50 298.00L337.00 302.50L332.50 298.00Z"/><path d="M343.00 295.50L347.50 300.00L343.00 304.50L338.50 300.00Z"/></g>
<path d="M77.30 210.00 L80.39 210.02 L83.47 210.06 L86.56 210.13 L89.65 210.22 L92.73 210.33 L95.82 210.46 L98.91 210.60 L101.99 210.75 L105.08 210.90 L108.17 211.06 L111.25 211.27 L114.34 211.54 L117.42 211.86 L120.51 212.23 L123.60 212.64 L126.68 213.11 L129.77 213.61 L132.86 214.16 L135.94 214.75 L139.03 215.37 L142.12 216.03 L145.20 216.73 L148.29 217.45 L151.38 218.20 L154.46 218.98 L157.55 219.78 L160.64 220.60 L163.72 221.44 L166.81 222.30 L169.90 223.18 L172.98 224.06 L176.07 224.96 L179.16 225.86 L182.24 226.77 L185.33 227.68 L188.41 228.60 L191.50 229.51 L194.59 230.42 L197.67 231.32 L200.76 232.22 L203.85 233.11 L206.93 233.98 L210.02 234.85 L213.11 235.74 L216.19 236.64 L219.28 237.55 L222.37 238.49 L225.45 239.44 L228.54 240.41 L231.63 241.40 L234.71 242.42 L237.80 243.46 L240.89 244.53 L243.97 245.63 L247.06 246.76 L250.14 247.92 L253.23 249.12 L256.32 250.34 L259.40 251.61 L262.49 252.91 L265.58 254.25 L268.66 255.65 L271.75 257.12 L274.84 258.66 L277.92 260.27 L281.01 261.95 L284.10 263.70 L287.18 265.53 L290.27 267.44 L293.36 269.43 L296.44 271.51 L299.53 273.66 L302.62 275.95 L305.70 278.44 L308.79 281.11 L311.88 283.96 L314.96 286.97 L318.05 290.13 L321.13 293.43 L324.22 296.89 L327.31 300.56 L330.39 304.46 L333.48 308.61 L336.57 313.03 L339.65 317.75 L342.74 323.00 L345.83 328.93 L348.91 335.30 L352.00 342.00" fill="none" stroke="#00ff00" stroke-width="2.5"/>
<g stroke="#0000ff" fill="none"><path d="M315.00 271.00V277.00" stroke-width="1.5"/><path d="M319.50 274.00V280.00" stroke-width="1.5"/><path d="M324.10 278.10V284.10" stroke-width="1.5"/><path d="M330.20 281.10V287.10" stroke-width="1.5"/></g>
<g fill="#0000ff" stroke="none"><polygon points="111.59,203.00 109.44,206.73 105.14,206.73 102.99,203.00 105.14,199.28 109.44,199.28"/><polygon points="122.50,201.99 120.35,205.71 116.05,205.71 113.90,201.99 116.05,198.27 120.35,198.27"/><polygon points="132.25,205.06 130.10,208.78 125.80,208.78 123.65,205.06 125.80,201.33 130.10,201.33"/><polygon points="141.07,205.08 138.92,208.80 134.62,208.80 132.47,205.08 134.62,201.35 138.92,201.35"/><polygon points="149.12,206.83 146.97,210.56 142.67,210.56 140.52,206.83 142.67,203.11 146.97,203.11"/><polygon points="156.53,209.03 154.38,212.75 150.08,212.75 147.93,209.03 150.08,205.31 154.38,205.31"/><polygon points="163.39,209.66 161.24,213.39 156.94,213.39 154.79,209.66 156.94,205.94 161.24,205.94"/><polygon points="169.77,212.91 167.62,216.63 163.32,216.63 161.17,212.91 163.32,209.18 167.62,209.18"/><polygon points="175.74,212.18 173.59,215.90 169.29,215.90 167.14,212.18 169.29,208.45 173.59,208.45"/><polygon points="181.35,214.04 179.20,217.77 174.90,217.77 172.75,214.04 174.90,210.32 179.20,210.32"/><polygon points="186.64,214.64 184.49,218.36 180.19,218.36 178.04,214.64 180.19,210.92 184.49,210.92"/><polygon points="191.64,216.24 189.49,219.97 185.19,219.97 183.04,216.24 185.19,212.52 189.49,212.52"/><polygon points="196.39,218.59 194.24,222.31 189.94,222.31 187.79,218.59 189.94,214.86 194.24,214.86"/><polygon points="200.90,218.05 198.75,221.77 194.45,221.77 192.30,218.05 194.45,214.32 198.75,214.32"/><polygon points="205.21,221.52 203.06,225.24 198.76,225.24 196.61,221.52 198.76,217.80 203.06,217.80"/><polygon points="209.32,220.01 207.17,223.74 202.87,223.74 200.72,220.01 202.87,216.29 207.17,216.29"/><polygon points="213.26,220.98 211.11,224.70 206.81,224.70 204.66,220.98 206.81,217.26 211.11,217.26"/><polygon points="217.03,224.08 214.88,227.80 210.58,227.80 208.43,224.08 210.58,220.35 214.88,220.35"/><polygon points="220.66,223.09 218.51,226.82 214.21,226.82 212.06,223.09 214.21,219.37 218.51,219.37"/><polygon points="224.15,225.08 222.00,228.80 217.70,228.80 215.55,225.08 217.70,221.35 222.00,221.35"/><polygon points="227.52,227.80 225.37,231.53 221.07,231.53 218.92,227.80 221.07,224.08 225.37,224.08"/><polygon points="230.77,229.34 228.62,233.07 224.32,233.07 222.17,229.34 224.32,225.62 228.62,225.62"/><polygon points="233.90,226.72 231.75,230.45 227.45,230.45 225.30,226.72 227.45,223.00 231.75,223.00"/><polygon points="236.94,230.75 234.79,234.48 230.49,234.48 228.34,230.75 230.49,227.03 234.79,227.03"/><polygon points="239.87,233.67 237.72,237.39 233.42,237.39 231.27,233.67 233.42,229.94 237.72,229.94"/><polygon points="242.72,233.92 240.57,237.64 236.27,237.64 234.12,233.92 236.27,230.19 240.57,230.19"/><polygon points="245.48,233.17 243.33,236.89 239.03,236.89 236.88,233.17 239.03,229.45 243.33,229.45"/><polygon points="248.16,233.83 246.01,237.56 241.71,237.56 239.56,233.83 241.71,230.11 246.01,230.11"/><polygon points="250.77,235.39 248.62,239.11 244.32,239.11 242.17,235.39 244.32,231.67 248.62,231.67"/><polygon points="253.30,235.40 251.15,239.12 246.85,239.12 244.70,235.40 246.85,231.68 251.15,231.68"/><polygon points="255.77,237.76 253.62,241.49 249.32,241.49 247.17,237.76 249.32,234.04 253.62,234.04"/><polygon points="258.17,239.03 256.02,242.76 251.72,242.76 249.57,239.03 251.72,235.31 256.02,235.31"/><polygon points="260.52,240.25 258.37,243.97 254.07,243.97 251.92,240.25 254.07,236.52 258.37,236.52"/><polygon points="262.80,243.23 260.65,246.96 256.35,246.96 254.20,243.23 256.35,239.51 260.65,239.51"/><polygon points="265.03,242.41 262.88,246.13 258.58,246.13 256.43,242.41 258.58,238.68 262.88,238.68"/><polygon points="267.21,241.80 265.06,245.52 260.76,245.52 258.61,241.80 260.76,238.07 265.06,238.07"/><polygon points="269.33,246.42 267.18,250.15 262.88,250.15 260.73,246.42 262.88,242.70 267.18,242.70"/><polygon points="271.41,244.49 269.26,248.21 264.96,248.21 262.81,244.49 264.96,240.76 269.26,240.76"/><polygon points="273.45,246.42 271.30,250.14 267.00,250.14 264.85,246.42 267.00,242.70 271.30,242.70"/><polygon points="275.44,247.89 273.29,251.62 268.99,251.62 266.84,247.89 268.99,244.17 273.29,244.17"/><polygon points="277.38,248.60 275.23,252.33 270.93,252.33 268.78,248.60 270.93,244.88 275.23,244.88"/><polygon points="279.29,248.65 277.14,252.37 272.84,252.37 270.69,248.65 272.84,244.93 277.14,244.93"/><polygon points="281.16,250.74 279.01,254.47 274.71,254.47 272.56,250.74 274.71,247.02 279.01,247.02"/><polygon points="282.99,255.30 280.84,259.03 276.54,259.03 274.39,255.30 276.54,251.58 280.84,251.58"/><polygon points="284.79,252.17 282.64,255.89 278.34,255.89 276.19,252.17 278.34,248.45 282.64,248.45"/><polygon points="286.55,253.83 284.40,257.55 280.10,257.55 277.95,253.83 280.10,250.10 284.40,250.10"/><polygon points="288.28,256.66 286.13,260.38 281.83,260.38 279.68,256.66 281.83,252.94 286.13,252.94"/><polygon points="289.98,257.04 287.83,260.76 283.53,260.76 281.38,257.04 283.53,253.31 287.83,253.31"/><polygon points="291.64,258.00 289.49,261.72 285.19,261.72 283.04,258.00 285.19,254.28 289.49,254.28"/><polygon points="293.28,259.07 291.13,262.79 286.83,262.79 284.68,259.07 286.83,255.35 291.13,255.35"/><polygon points="294.89,255.68 292.74,259.40 288.44,259.40 286.29,255.68 288.44,251.96 292.74,251.96"/><polygon points="296.47,258.24 294.32,261.97 290.02,261.97 287.87,258.24 290.02,254.52 294.32,254.52"/><polygon points="298.03,260.64 295.88,264.36 291.58,264.36 289.43,260.64 291.58,256.91 295.88,256.91"/><polygon points="299.56,262.07 297.41,265.80 293.11,265.80 290.96,262.07 293.11,258.35 297.41,258.35"/><polygon points="301.06,264.16 298.91,267.88 294.61,267.88 292.46,264.16 294.61,260.43 298.91,260.43"/><polygon points="302.54,263.73 300.39,267.45 296.09,267.45 293.94,263.73 296.09,260.00 300.39,260.00"/><polygon points="304.00,263.46 301.85,267.18 297.55,267.18 295.40,263.46 297.55,259.73 301.85,259.73"/><polygon points="305.43,264.71 303.28,268.43 298.98,268.43 296.83,264.71 298.98,260.98 303.28,260.98"/><polygon points="306.84,265.12 304.69,268.85 300.39,268.85 298.24,265.12 300.39,261.40 304.69,261.40"/><polygon points="308.23,266.65 306.08,270.37 301.78,270.37 299.63,266.65 301.78,262.93 306.08,262.93"/><polygon points="309.60,268.12 307.45,271.85 303.15,271.85 301.00,268.12 303.15,264.40 307.45,264.40"/><polygon points="310.95,267.31 308.80,271.03 304.50,271.03 302.35,267.31 304.50,263.58 308.80,263.58"/><polygon points="312.29,267.33 310.14,271.06 305.84,271.06 303.69,267.33 305.84,263.61 310.14,263.61"/><polygon points="313.60,268.04 311.45,271.76 307.15,271.76 305.00,268.04 307.15,264.31 311.45,264.31"/><polygon points="314.89,271.92 312.74,275.65 308.44,275.65 306.29,271.92 308.44,268.20 312.74,268.20"/><polygon points="319.30,274.00 317.15,277.72 312.85,277.72 310.70,274.00 312.85,270.28 317.15,270.28"/><polygon points="323.80,277.00 321.65,280.72 317.35,280.72 315.20,277.00 317.35,273.28 321.65,273.28"/><polygon points="328.40,281.10 326.25,284.82 321.95,284.82 319.80,281.10 321.95,277.38 326.25,277.38"/><polygon points="334.50,284.10 332.35,287.82 328.05,287.82 325.90,284.10 328.05,280.38 332.35,280.38"/></g>
<path d="M77.30 193.70 L80.41 194.23 L83.53 194.76 L86.64 195.29 L89.75 195.84 L92.87 196.39 L95.98 196.94 L99.09 197.51 L102.21 198.09 L105.32 198.68 L108.43 199.28 L111.55 199.88 L114.66 200.48 L117.78 201.07 L120.89 201.67 L124.00 202.27 L127.12 202.87 L130.23 203.47 L133.34 204.08 L136.46 204.69 L139.57 205.30 L142.68 205.92 L145.80 206.54 L148.91 207.17 L152.02 207.81 L155.14 208.45 L158.25 209.10 L161.36 209.77 L164.48 210.44 L167.59 211.12 L170.70 211.82 L173.82 212.52 L176.93 213.24 L180.04 213.98 L183.16 214.73 L186.27 215.49 L189.39 216.27 L192.50 217.06 L195.61 217.87 L198.73 218.70 L201.84 219.55 L204.95 220.42 L208.07 221.31 L211.18 222.22 L214.29 223.17 L217.41 224.14 L220.52 225.15 L223.63 226.18 L226.75 227.25 L229.86 228.34 L232.97 229.47 L236.09 230.62 L239.20 231.81 L242.31 233.03 L245.43 234.28 L248.54 235.57 L251.66 236.88 L254.77 238.23 L257.88 239.61 L261.00 241.03 L264.11 242.47 L267.22 243.95 L270.34 245.47 L273.45 247.05 L276.56 248.72 L279.68 250.48 L282.79 252.32 L285.90 254.25 L289.02 256.27 L292.13 258.36 L295.24 260.53 L298.36 262.78 L301.47 265.11 L304.58 267.51 L307.70 270.01 L310.81 272.65 L313.92 275.45 L317.04 278.45 L320.15 281.67 L323.27 285.14 L326.38 289.02 L329.49 293.50 L332.61 298.47 L335.72 303.76 L338.83 309.23 L341.95 314.77 L345.06 320.48 L348.17 326.52 L351.29 333.07 L354.40 340.33" fill="none" stroke="#0000ff" stroke-width="2.5"/>
</g>
<g clip-path="url(#cTR)"><path d="M492.45 173.50 L494.46 171.29 L496.47 169.13 L498.48 167.01 L500.49 164.93 L502.50 162.89 L504.51 160.89 L506.52 158.93 L508.52 157.00 L510.53 155.12 L512.54 153.26 L514.55 151.45 L516.56 149.67 L518.57 147.92 L520.58 146.21 L522.59 144.52 L524.60 142.88 L526.61 141.26 L528.62 139.67 L530.63 138.12 L532.64 136.59 L534.64 135.10 L536.65 133.63 L538.66 132.19 L540.67 130.78 L542.68 129.39 L544.69 128.03 L546.70 126.70 L548.71 125.40 L550.72 124.11 L552.73 122.86 L554.74 121.62 L556.75 120.41 L558.75 119.23 L560.76 118.07 L562.77 116.92 L564.78 115.81 L566.79 114.71 L568.80 113.63 L570.81 112.58 L572.82 111.54 L574.83 110.52 L576.84 109.53 L578.85 108.55 L580.86 107.59 L582.87 106.65 L584.87 105.73 L586.88 104.83 L588.89 103.94 L590.90 103.07 L592.91 102.21 L594.92 101.38 L596.93 100.56 L598.94 99.75 L600.95 98.96 L602.96 98.19 L604.97 97.43 L606.98 96.68 L608.98 95.95 L610.99 95.24 L613.00 94.53 L615.01 93.84 L617.02 93.17 L619.03 92.50 L621.04 91.85 L623.05 91.21 L625.06 90.59 L627.07 89.97 L629.08 89.37 L631.09 88.78 L633.10 88.20 L635.10 87.63 L637.11 87.08 L639.12 86.53 L641.13 85.99 L643.14 85.47 L645.15 84.95 L647.16 84.45 L649.17 83.95 L651.18 83.46 L653.19 82.99 L655.20 82.52 L657.21 82.06 L659.21 81.61 L661.22 81.17 L663.23 80.73 L665.24 80.31 L667.25 79.89 L669.26 79.48 L671.27 79.08 L673.28 78.69 L675.29 78.30 L677.30 77.93 L679.31 77.55 L681.32 77.19 L683.33 76.83 L685.33 76.48 L687.34 76.14 L689.35 75.80 L691.36 75.47 L693.37 75.15 L695.38 74.83 L697.39 74.52 L699.40 74.21 L701.41 73.91 L703.42 73.62 L705.43 73.33 L707.44 73.05 L709.44 72.77 L711.45 72.50 L713.46 72.23 L715.47 71.97 L717.48 71.71 L719.49 71.46 L721.50 71.21 L723.51 70.97 L725.52 70.73 L727.53 70.50 L729.54 70.27 L731.55 70.05 L733.56 69.83 L735.56 69.61 L737.57 69.40 L739.58 69.19 L741.59 68.99 L743.60 68.79 L745.61 68.59 L747.62 68.40 L749.63 68.21 L751.64 68.03 L753.65 67.85 L755.66 67.67 L757.67 67.50 L759.67 67.33 L761.68 67.16 L763.69 66.99 L765.70 66.83 L767.71 66.67 L769.72 66.52 L771.73 66.37" fill="none" stroke="#0000ff" stroke-width="3" stroke-dasharray="3.4 7.1" stroke-linecap="round"/></g>
<g stroke="#0000ff" fill="none"><path d="M632.50 55.40V68.30" stroke-width="2"/><path d="M659.80 49.50V65.30" stroke-width="2"/><path d="M687.10 68.30V100.60" stroke-width="2"/><path d="M741.70 58.10V96.60" stroke-width="2"/></g>
<g fill="#0000ff" stroke="none"><circle cx="523.30" cy="140.00" r="5.0"/><circle cx="550.60" cy="124.70" r="5.0"/><circle cx="577.90" cy="119.00" r="5.0"/><circle cx="605.20" cy="97.60" r="5.0"/><circle cx="632.50" cy="61.90" r="5.0"/><circle cx="659.80" cy="57.60" r="5.0"/><circle cx="687.10" cy="84.60" r="5.0"/><circle cx="741.70" cy="77.30" r="5.0"/></g>
<g clip-path="url(#cBR)"><path d="M490.54 330.06 L769.00 198.51" fill="none" stroke="#0000ff" stroke-width="3" stroke-dasharray="3.4 7.1" stroke-linecap="round"/></g>
<g stroke="#0000ff" fill="none"><path d="M632.50 248.50V262.90" stroke-width="2"/><path d="M659.80 238.00V257.30" stroke-width="2"/><path d="M687.10 209.00V238.00" stroke-width="2"/><path d="M741.70 205.40V243.50" stroke-width="2"/></g>
<g fill="#0000ff" stroke="none"><circle cx="523.30" cy="315.60" r="5.0"/><circle cx="550.60" cy="288.00" r="5.0"/><circle cx="577.90" cy="297.70" r="5.0"/><circle cx="605.20" cy="277.80" r="5.0"/><circle cx="632.50" cy="256.00" r="5.0"/><circle cx="659.80" cy="247.10" r="5.0"/><circle cx="687.10" cy="223.60" r="5.0"/><circle cx="741.70" cy="224.20" r="5.0"/></g>
<text x="71" y="40.90101928300223" font-size="20.6" text-anchor="end" >10<tspan dy="-8.0" font-size="13.8">-2</tspan></text>
<text x="71" y="110.00050964150111" font-size="20.6" text-anchor="end" >10<tspan dy="-8.0" font-size="13.8">-3</tspan></text>
<text x="71" y="179.1" font-size="20.6" text-anchor="end" >10<tspan dy="-8.0" font-size="13.8">-4</tspan></text>
<text x="71" y="229.5218892795969" font-size="20.6" text-anchor="end" >10<tspan dy="-8.0" font-size="13.8">-2</tspan></text>
<text x="71" y="288.21094463979847" font-size="20.6" text-anchor="end" >10<tspan dy="-8.0" font-size="13.8">-3</tspan></text>
<text x="71" y="346.90000000000003" font-size="20.6" text-anchor="end" >10<tspan dy="-8.0" font-size="13.8">-4</tspan></text>
<text x="77.3" y="363.4" font-size="21" text-anchor="middle" >5×10<tspan dy="-8.0" font-size="13.8">-3</tspan></text>
<text x="141.3" y="365.4" font-size="21" text-anchor="middle" >10<tspan dy="-8.0" font-size="13.8">-2</tspan></text>
<text x="354.4" y="365.4" font-size="21" text-anchor="middle" >10<tspan dy="-8.0" font-size="13.8">-1</tspan></text>
<text x="212.5" y="392.8" font-size="20.6" text-anchor="middle" >Q [Å<tspan dy="-8.0" font-size="13.8">-1</tspan><tspan dy="8.0">]</tspan></text>
<text transform="translate(19.2 159.7) rotate(-90)" font-size="21" text-anchor="middle">ΔdΣ/dΩ(Q) [cm<tspan dy="-8" font-size="13.8">-1</tspan><tspan dy="8">]</tspan></text>
<text x="488.8" y="180.10000000000002" font-size="20.0" text-anchor="end" >0.0</text>
<text x="488.8" y="148.96" font-size="20.0" text-anchor="end" >0.5</text>
<text x="488.8" y="117.82000000000001" font-size="20.0" text-anchor="end" >1.0</text>
<text x="488.8" y="86.68" font-size="20.0" text-anchor="end" >1.5</text>
<text x="488.8" y="55.53999999999999" font-size="20.0" text-anchor="end" >2.0</text>
<text x="488.8" y="24.399999999999995" font-size="20.0" text-anchor="end" >2.5</text>
<text x="488.8" y="346.6" font-size="20.0" text-anchor="end" >100</text>
<text x="488.8" y="319.61724137931037" font-size="20.0" text-anchor="end" >200</text>
<text x="488.8" y="292.6344827586207" font-size="20.0" text-anchor="end" >300</text>
<text x="488.8" y="265.65172413793107" font-size="20.0" text-anchor="end" >400</text>
<text x="488.8" y="238.6689655172414" font-size="20.0" text-anchor="end" >500</text>
<text x="488.8" y="211.68620689655177" font-size="20.0" text-anchor="end" >600</text>
<text x="496.0" y="363" font-size="20.6" text-anchor="middle" >20</text>
<text x="550.6" y="363" font-size="20.6" text-anchor="middle" >30</text>
<text x="605.2" y="363" font-size="20.6" text-anchor="middle" >40</text>
<text x="659.8" y="363" font-size="20.6" text-anchor="middle" >50</text>
<text x="714.4" y="363" font-size="20.6" text-anchor="middle" >60</text>
<text x="769.0" y="363" font-size="20.6" text-anchor="middle" >70</text>
<text x="632" y="393" font-size="20.6" text-anchor="middle" >Temperature [°C]</text>
<text transform="translate(434 105.3) rotate(-90)" font-size="20.7" text-anchor="middle">ΔdΣ/dΩ(0) [10<tspan dy="-8" font-size="13.8">-2</tspan><tspan dy="8">cm</tspan><tspan dy="-8" font-size="13.8">-1</tspan><tspan dy="8">]</tspan></text>
<text transform="translate(434 255.3) rotate(-90)" font-size="21" text-anchor="middle">L<tspan dy="5" font-size="13.8">rod</tspan><tspan dy="-5"> [Å]</tspan></text>
<text x="17.2" y="19.0" font-size="26" text-anchor="start" >a)</text>
<text x="386.2" y="19.0" font-size="26" text-anchor="start" >b)</text>
<rect x="236.4" y="21.5" width="99.29999999999998" height="26.799999999999997" fill="#fff" stroke="#666" stroke-width="1"/>
<text x="238.1" y="39.3" font-size="17" font-weight="bold">CO<tspan dy="3.8" font-size="11.5">2</tspan><tspan dy="-3.8">; 480 bar</tspan></text>
<rect x="505.5" y="28.5" width="98.20000000000005" height="25.6" fill="#fff" stroke="#666" stroke-width="1"/>
<text x="507.3" y="45.2" font-size="17" font-weight="bold">CO<tspan dy="3.8" font-size="11.5">2</tspan><tspan dy="-3.8">; 480 bar</tspan></text>
<rect x="625.4" y="302.7" width="125.89999999999998" height="24.30000000000001" fill="#fff" stroke="#666" stroke-width="1"/>
<text x="627.9" y="318.9" font-size="15" font-weight="bold">R<tspan dy="3.5" font-size="10.5">rod</tspan><tspan dy="-3.5"> = (30.4±0.3) Å</tspan></text>
<rect x="85.1" y="126.2" width="127.1" height="32.89999999999999" fill="#fff" stroke="#666" stroke-width="1"/>
<text x="90.6" y="139.5" font-size="12.8" font-weight="bold">Temperature [°C]:</text>
<path d="M90.8 141.3H189.5" stroke="#000" stroke-width="1"/>
<g fill="#ff0000"><rect x="98.20" y="147.40" width="6.8" height="6.8"/></g><g fill="#00ff00"><circle cx="142.70" cy="150.80" r="3.7"/></g><g fill="#0000ff"><path d="M183.90 146.75L187.80 154.16L180.00 154.16Z"/></g>
<text x="115.6" y="155" font-size="13" text-anchor="start" >25</text>
<text x="156.7" y="155" font-size="13" text-anchor="start" >30</text>
<text x="197.9" y="155" font-size="13" text-anchor="start" >35</text>
<rect x="86.6" y="304.4" width="127.1" height="17.900000000000034" fill="#fff" stroke="#666" stroke-width="1"/>
<g fill="#ff0000"><path d="M102.60 317.97L106.70 310.18L98.50 310.18Z"/></g><g fill="#00ff00"><path d="M143.80 309.40L148.10 313.70L143.80 318.00L139.50 313.70Z"/></g><g fill="#0000ff"><polygon points="188.80,313.70 186.85,317.08 182.95,317.08 181.00,313.70 182.95,310.32 186.85,310.32"/></g>
<text x="116.6" y="317.8" font-size="13" text-anchor="start" >40</text>
<text x="157.7" y="317.8" font-size="13" text-anchor="start" >45</text>
<text x="198.9" y="317.8" font-size="13" text-anchor="start" >65</text>
<rect x="77.30" y="12.10" width="277.10" height="159.00" fill="none" stroke="#000" stroke-width="1.25"/>
<rect x="77.30" y="180.90" width="277.10" height="158.40" fill="none" stroke="#000" stroke-width="1.25"/>
<rect x="496.00" y="18.10" width="273.00" height="155.70" fill="none" stroke="#000" stroke-width="1.25"/>
<rect x="496.00" y="183.80" width="273.00" height="156.50" fill="none" stroke="#000" stroke-width="1.25"/>
</svg></body></html>
